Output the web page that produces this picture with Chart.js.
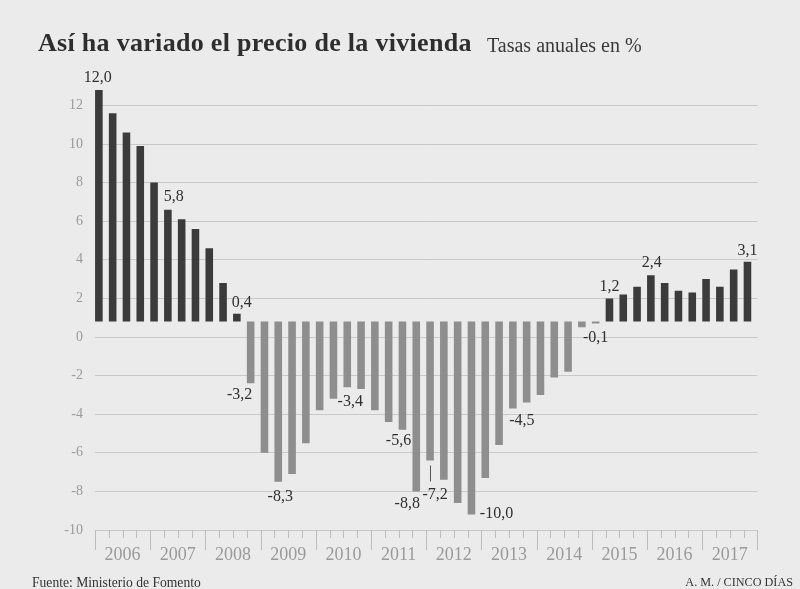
<!DOCTYPE html>
<html lang="es">

<head>
    <meta charset="UTF-8" />
    <script src="https://cdn.jsdelivr.net/npm/chart.js@4.4.1/dist/chart.umd.min.js"></script>
    <style>
        body { margin: 0; background: #ebebeb; }
        #wrap { position: relative; width: 800px; height: 589px; overflow: hidden; }
        #chart { position: absolute; left: 0; top: 0; }
        .txt { position: absolute; white-space: nowrap; line-height: 1; font-family: "Liberation Serif", serif; }
        #title { left: 38px; top: 30px; font-size: 26px; letter-spacing: 0.3px; font-weight: bold; color: #2e2e2e; }
        #subtitle { left: 487px; top: 35px; font-size: 20px; color: #3a3a3a; }
        #source { left: 32px; top: 576px; font-size: 13.6px; color: #333; }
        #credit { right: 7px; top: 576px; font-size: 12.2px; color: #333; }
    </style>
</head>

<body>
    <div id="wrap">
        <canvas id="chart" width="800" height="589"></canvas>
        <div class="txt" id="title">Así ha variado el precio de la vivienda</div>
        <div class="txt" id="subtitle">Tasas anuales en %</div>
        <div class="txt" id="source">Fuente: Ministerio de Fomento</div>
        <div class="txt" id="credit">A. M. / CINCO DÍAS</div>
    </div>
    <script>
        // variacion interanual del precio, un valor por trimestre (2006 T1 .. 2017 T4)
        const years = ['2006', '2007', '2008', '2009', '2010', '2011', '2012', '2013', '2014', '2015', '2016', '2017'];
        const quarterValues = [
            12.0, 10.8, 9.8, 9.1,
            7.2, 5.8, 5.3, 4.8,
            3.8, 2.0, 0.4, -3.2,
            -6.8, -8.3, -7.9, -6.3,
            -4.6, -4.0, -3.4, -3.5,
            -4.6, -5.2, -5.6, -8.8,
            -7.2, -8.2, -9.4, -10.0,
            -8.1, -6.4, -4.5, -4.2,
            -3.8, -2.9, -2.6, -0.3,
            -0.1, 1.2, 1.4, 1.8,
            2.4, 2.0, 1.6, 1.5,
            2.2, 1.8, 2.7, 3.1
        ];
        const yTicks = [-10, -8, -6, -4, -2, 0, 2, 4, 6, 8, 10, 12];
        // trimestres que llevan su valor rotulado
        const labelledQuarters = [0, 5, 10, 11, 13, 18, 22, 23, 24, 27, 30, 36, 37, 40, 47];

        // ajustes de dibujo
        const barShift = 0.28;   // barras pegadas a la izquierda de su hueco
        const baseShift = 0.8;   // la base de las barras va algo por encima del 0
        const yMin = -10, yMax = 13.7;
        const darkBar = '#3b3b3b', lightBar = '#8e8e8e';
        const labelNudge = {
            0: [-1, -12], 5: [6, -13], 10: [5, -11], 11: [-11, 11],
            13: [2, 15], 18: [3, 15], 22: [-4, 11], 23: [-9, 12],
            24: [5, 34], 27: [25, -1], 30: [9, 12], 36: [0, 14],
            37: [0, -12], 40: [1, -12], 47: [0, -11]
        };
        const leaderLines = { 24: [5, 21] };

        const fmt = v => v.toFixed(1).replace('.', ',');

        const quarterTicks = {
            id: 'quarterTicks',
            afterDraw(chart) {
                const { ctx } = chart;
                const xs = chart.scales.x;
                const top = chart.chartArea.bottom;
                ctx.save();
                ctx.strokeStyle = '#bcbcbc';
                ctx.lineWidth = 1;
                for (let q = 0; q <= quarterValues.length; q++) {
                    const px = Math.round(xs.getPixelForValue(q - barShift)) + 0.5;
                    const len = q % 4 === 0 ? 20 : 8;
                    ctx.beginPath();
                    ctx.moveTo(px, top);
                    ctx.lineTo(px, top + len);
                    ctx.stroke();
                }
                ctx.restore();
            }
        };

        const valueLabels = {
            id: 'valueLabels',
            afterDatasetsDraw(chart) {
                const { ctx } = chart;
                const meta = chart.getDatasetMeta(0);
                ctx.save();
                ctx.font = '16px "Liberation Serif"';
                ctx.fillStyle = '#2f2f2f';
                ctx.textAlign = 'center';
                ctx.textBaseline = 'middle';
                labelledQuarters.forEach(i => {
                    const el = meta.data[i];
                    const [dx, dy] = labelNudge[i] || [0, 0];
                    ctx.fillText(fmt(quarterValues[i]), el.x + dx, el.y + dy);
                    if (leaderLines[i]) {
                        const [a, b] = leaderLines[i];
                        ctx.strokeStyle = '#555';
                        ctx.lineWidth = 1;
                        ctx.beginPath();
                        ctx.moveTo(Math.round(el.x) + 0.5, el.y + a);
                        ctx.lineTo(Math.round(el.x) + 0.5, el.y + b);
                        ctx.stroke();
                    }
                });
                ctx.restore();
            }
        };

        const ctx = document.getElementById('chart').getContext('2d');
        new Chart(ctx, {
            type: 'bar',
            data: {
                datasets: [{
                    data: quarterValues.map((v, i) => ({ x: i, y: v })),
                    backgroundColor: quarterValues.map(v => v >= 0 ? darkBar : lightBar),
                    borderWidth: 0,
                    categoryPercentage: 1,
                    barPercentage: 0.55,
                    xAxisID: 'x',
                    yAxisID: 'yb'
                }]
            },
            options: {
                responsive: false,
                animation: false,
                layout: { padding: { left: 0, right: 42.6, top: 72.6, bottom: 0 } },
                plugins: { legend: { display: false }, tooltip: { enabled: false } },
                scales: {
                    x: {
                        type: 'linear',
                        offset: false,
                        min: -barShift,
                        max: quarterValues.length - barShift,
                        grid: { display: false, drawTicks: false, offset: false },
                        border: { display: false },
                        afterBuildTicks: s => { s.ticks = years.map((y, k) => ({ value: 4 * k + 2 - barShift })); },
                        afterFit: s => { s.height = 59; },
                        ticks: {
                            autoSkip: false,
                            maxRotation: 0,
                            padding: 14,
                            color: '#9a9a9a',
                            font: { family: 'Liberation Serif', size: 18 },
                            callback: (v, i) => years[i]
                        }
                    },
                    y: {
                        type: 'linear',
                        position: 'left',
                        min: yMin,
                        max: yMax,
                        afterBuildTicks: s => { s.ticks = yTicks.map(v => ({ value: v })); },
                        afterFit: s => { s.width = 95; },
                        grid: { color: '#c9c9c9', drawTicks: false },
                        border: { display: false },
                        ticks: {
                            padding: 12,
                            color: '#9a9a9a',
                            font: { family: 'Liberation Serif', size: 14 },
                            callback: v => String(v)
                        }
                    },
                    yb: {
                        type: 'linear',
                        display: false,
                        min: yMin - baseShift,
                        max: yMax - baseShift
                    }
                }
            },
            plugins: [quarterTicks, valueLabels]
        });
    </script>
</body>

</html>
